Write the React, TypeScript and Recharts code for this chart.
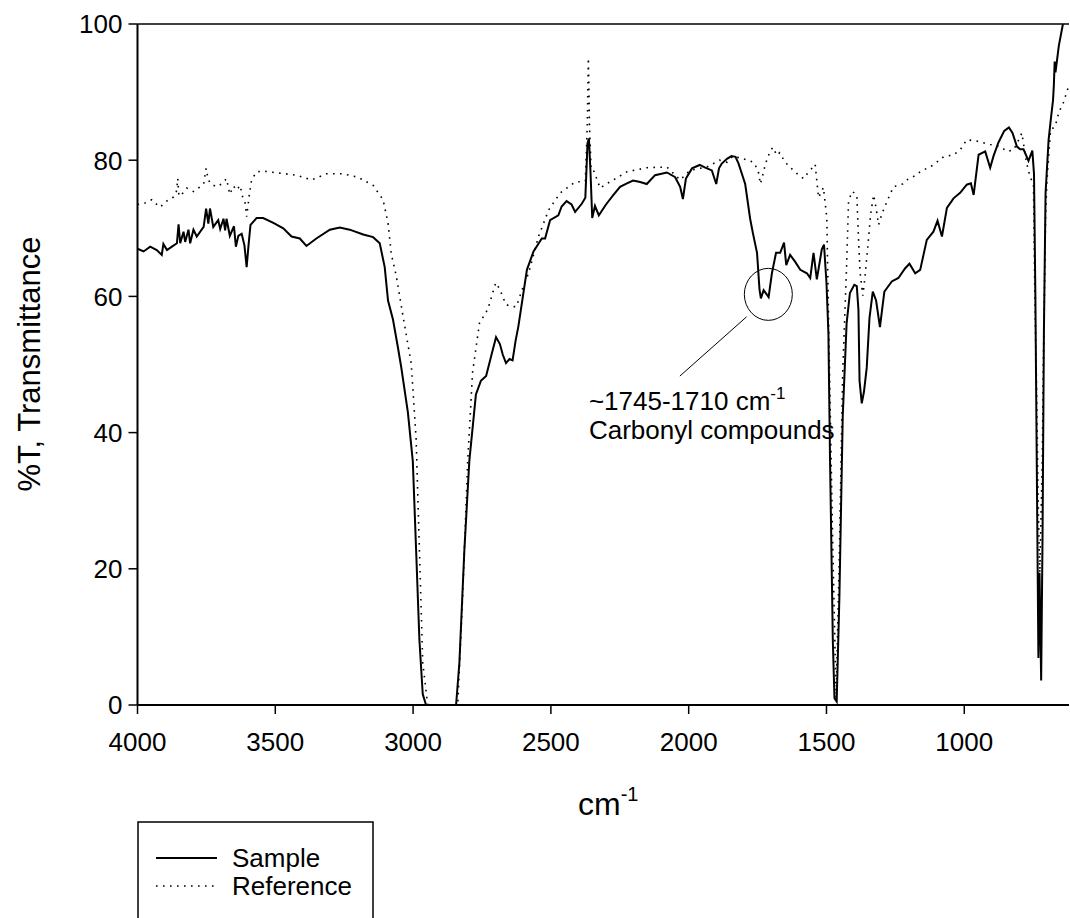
import React from "react";
import {
  Line,
  LineChart,
  ReferenceDot,
  ReferenceLine,
  XAxis,
  YAxis,
} from "recharts";

// wavenumbers (cm-1) and %T
const sampleWn = [
  4000, 3978, 3954, 3930, 3912, 3906, 3893, 3875, 3857, 3851, 3845, 3833, 3827, 3815, 3809, 3797,
  3785, 3760, 3751, 3743, 3737, 3725, 3707, 3700, 3688, 3682, 3677, 3665, 3650, 3643, 3634, 3622,
  3612, 3604, 3596, 3590, 3568, 3544, 3507, 3471, 3441, 3411, 3387, 3351, 3302, 3266, 3230, 3181,
  3145, 3121, 3103, 3091, 3073, 3055, 3043, 3019, 3001, 2989, 2977, 2965, 2953, 2844, 2832, 2814,
  2796, 2772, 2754, 2735, 2715, 2699, 2685, 2675, 2663, 2650, 2639, 2628, 2618, 2587, 2563, 2533,
  2521, 2503, 2473, 2461, 2443, 2425, 2412, 2388, 2375, 2367, 2362, 2356, 2350, 2340, 2326, 2300,
  2273, 2249, 2224, 2202, 2176, 2152, 2122, 2079, 2049, 2031, 2021, 2010, 1988, 1960, 1940, 1916,
  1900, 1890, 1880, 1861, 1845, 1830, 1819, 1795, 1777, 1767, 1752, 1743, 1738, 1728, 1719, 1710,
  1698, 1683, 1668, 1654, 1646, 1632, 1614, 1595, 1571, 1559, 1547, 1535, 1517, 1509, 1500, 1493,
  1487, 1477, 1471, 1463, 1453, 1441, 1427, 1415, 1399, 1390, 1384, 1380, 1372, 1364, 1354, 1344,
  1332, 1320, 1306, 1290, 1281, 1263, 1239, 1215, 1199, 1178, 1160, 1136, 1112, 1097, 1081, 1063,
  1039, 1015, 991, 976, 966, 948, 924, 906, 894, 876, 855, 838, 825, 809, 797, 785,
  767, 753, 747, 742, 737, 731, 727, 721, 716, 711, 705, 694, 686, 678, 675, 672,
  669, 657, 642,
];
const sampleT = [
  67.0, 66.6, 67.3, 66.8, 66.1, 67.7, 66.8, 67.3, 67.8, 70.6, 67.8, 69.5, 68.0, 69.8, 67.8, 69.8,
  68.8, 70.2, 72.9, 70.7, 72.9, 70.2, 71.2, 69.9, 71.4, 69.7, 71.4, 68.9, 70.3, 67.3, 68.9, 69.2,
  67.5, 64.3, 68.0, 70.5, 71.5, 71.5, 70.8, 70.0, 68.8, 68.5, 67.4, 68.5, 69.8, 70.1, 69.8, 69.1,
  68.7, 67.8, 64.3, 59.4, 56.6, 52.5, 49.6, 43.0, 35.8, 22.7, 9.5, 1.6, 0, 0, 6.2, 22.7,
  35.8, 45.6, 47.6, 48.3, 51.5, 54.0, 53.0, 51.5, 50.2, 50.8, 50.6, 53.5, 55.6, 63.9, 66.6, 68.5,
  68.5, 71.2, 71.9, 73.2, 74.0, 73.5, 72.4, 73.6, 74.5, 82.5, 83.2, 78.0, 71.5, 73.3, 71.9, 73.5,
  74.9, 76.1, 76.6, 77.0, 76.8, 76.5, 77.8, 78.2, 77.5, 76.1, 74.3, 77.3, 78.8, 79.3, 78.9, 78.5,
  76.5, 78.8, 79.5, 80.2, 80.6, 80.5, 79.5, 76.5, 71.4, 69.3, 66.4, 61.0, 59.7, 60.9, 60.4, 59.9,
  63.4, 66.4, 66.4, 67.9, 64.6, 66.1, 65.1, 63.9, 63.4, 62.7, 66.4, 62.5, 66.9, 67.6, 62.0, 54.6,
  35.8, 9.5, 1.0, 0.5, 16.1, 42.4, 56.0, 60.5, 61.7, 61.5, 58.0, 47.6, 44.3, 46.0, 49.5, 56.8,
  60.7, 59.4, 55.5, 60.7, 61.2, 62.2, 62.7, 64.1, 64.8, 63.4, 63.9, 68.3, 69.5, 71.1, 68.8, 73.0,
  74.4, 75.2, 76.4, 76.6, 74.9, 80.8, 81.3, 78.9, 80.6, 82.6, 84.3, 84.8, 84.0, 82.0, 81.6, 81.6,
  79.9, 81.4, 78.0, 60.0, 35.8, 6.9, 19.4, 3.6, 25.0, 55.0, 75.2, 83.0, 86.0, 88.8, 91.0, 94.5,
  92.9, 96.8, 100,
];

const refWn = [
  4000, 3978, 3960, 3948, 3930, 3918, 3894, 3869, 3858, 3854, 3850, 3845, 3821, 3797, 3773, 3760,
  3751, 3745, 3737, 3713, 3695, 3677, 3665, 3652, 3640, 3628, 3618, 3610, 3604, 3594, 3586, 3568,
  3544, 3484, 3423, 3369, 3314, 3254, 3200, 3145, 3109, 3091, 3079, 3061, 3037, 3007, 2989, 2977,
  2965, 2947, 2838, 2820, 2802, 2784, 2759, 2729, 2700, 2685, 2663, 2641, 2625, 2617, 2600, 2581,
  2545, 2508, 2466, 2412, 2375, 2368, 2364, 2360, 2354, 2347, 2321, 2300, 2273, 2224, 2152, 2079,
  2031, 1995, 1934, 1888, 1861, 1839, 1801, 1765, 1748, 1740, 1730, 1722, 1704, 1694, 1680, 1670,
  1650, 1620, 1600, 1583, 1570, 1559, 1541, 1529, 1511, 1499, 1489, 1477, 1465, 1453, 1441, 1427,
  1420, 1408, 1399, 1390, 1384, 1378, 1368, 1360, 1350, 1340, 1329, 1320, 1311, 1300, 1281, 1257,
  1224, 1209, 1175, 1160, 1112, 1075, 1039, 1015, 991, 954, 906, 870, 845, 821, 801, 791,
  775, 763, 749, 744, 737, 731, 726, 717, 713, 705, 700, 687, 670, 657, 640, 621,
];
const refT = [
  73.5, 73.6, 74.0, 74.2, 73.5, 73.1, 74.0, 74.6, 75.5, 77.3, 74.9, 74.7, 75.9, 75.4, 76.1, 76.5,
  78.8, 77.5, 76.6, 76.1, 76.5, 77.3, 75.0, 76.2, 75.6, 76.3, 74.5, 73.8, 71.7, 75.0, 77.1, 78.3,
  78.4, 78.1, 77.8, 77.1, 78.0, 78.0, 77.5, 76.3, 74.2, 70.8, 66.2, 63.0, 57.2, 50.2, 39.1, 22.7,
  6.2, 0, 0, 16.1, 35.8, 48.9, 56.1, 58.1, 62.0, 61.0, 58.8, 58.5, 58.5, 59.5, 61.5, 63.4,
  68.8, 72.7, 75.2, 76.8, 76.9, 85.0, 95.0, 85.0, 78.7, 78.7, 75.9, 76.5, 77.1, 78.3, 78.9, 79.0,
  77.1, 78.5, 79.0, 80.0, 79.7, 80.6, 80.2, 79.7, 78.5, 76.5, 78.0, 79.4, 81.4, 81.9, 80.7, 81.1,
  79.7, 78.5, 77.8, 77.3, 78.0, 78.5, 79.4, 74.5, 76.0, 71.6, 48.9, 22.7, 1.0, 22.7, 48.9, 64.4,
  73.9, 75.4, 75.2, 74.9, 68.6, 63.5, 60.1, 63.0, 67.3, 72.0, 74.9, 73.0, 70.5, 72.0, 73.9, 76.1,
  76.5, 77.1, 77.8, 78.3, 79.3, 80.5, 80.8, 81.5, 83.0, 82.8, 82.3, 82.0, 81.3, 81.5, 83.1, 84.0,
  79.8, 77.8, 76.4, 60.0, 45.0, 28.0, 19.4, 35.8, 50.0, 71.9, 76.9, 84.4, 85.0, 87.0, 88.5, 90.9,
];

const xTicks = [4000, 3500, 3000, 2500, 2000, 1500, 1000];
const yTicks = [0, 20, 40, 60, 80, 100];
const seriesNames = ["Sample", "Reference"];

const sampleData = sampleWn.map((wn, i) => ({ wn, t: sampleT[i] }));
const refData = refWn.map((wn, i) => ({ wn, t: refT[i] }));

const FONT = "Arial, 'Liberation Sans', sans-serif";

function XTick({ x, y, payload }: any) {
  return (
    <text x={x} y={y + 35} textAnchor="middle" fontSize={26} fontFamily={FONT} fill="#000">
      {payload.value}
    </text>
  );
}

function YTick({ x, y, payload }: any) {
  return (
    <text x={x - 4} y={y} dy="0.36em" textAnchor="end" fontSize={26} fontFamily={FONT} fill="#000">
      {payload.value}
    </text>
  );
}

function Legend() {
  return (
    <svg
      width={240}
      height={100}
      style={{ position: "absolute", left: 137, top: 821, overflow: "visible" }}
    >
      <rect x={1} y={1} width={235} height={120} fill="none" stroke="#000" strokeWidth={1.5} />
      <line x1={19} x2={80} y1={37} y2={37} stroke="#000" strokeWidth={2} />
      <text x={95} y={37} dy="0.36em" fontSize={26} fontFamily={FONT}>
        {seriesNames[0]}
      </text>
      <line
        x1={19}
        x2={80}
        y1={65}
        y2={65}
        stroke="#000"
        strokeWidth={1.6}
        strokeDasharray="1.6 5.4"
      />
      <text x={95} y={65} dy="0.36em" fontSize={26} fontFamily={FONT}>
        {seriesNames[1]}
      </text>
    </svg>
  );
}

export default function App() {
  return (
    <div style={{ position: "absolute", left: 0, top: 0, width: 1070, height: 918, overflow: "hidden" }}>
      <LineChart width={1070} height={918} margin={{ top: 24, right: 1, bottom: 0, left: 0 }}>
        <XAxis
          type="number"
          dataKey="wn"
          domain={[620, 4000]}
          reversed
          allowDataOverflow
          ticks={xTicks}
          height={213}
          tickSize={9}
          tick={<XTick />}
          axisLine={{ stroke: "#000", strokeWidth: 2 }}
          tickLine={{ stroke: "#000", strokeWidth: 1.5 }}
          label={{
            content: () => (
              <text x={578} y={815} fontSize={32} fontFamily={FONT} fill="#000">
                cm
                <tspan fontSize={20} dy={-14}>
                  -1
                </tspan>
              </text>
            ),
          }}
        />
        <YAxis
          type="number"
          domain={[0, 100]}
          ticks={yTicks}
          width={137.5}
          tickSize={9}
          tick={<YTick />}
          axisLine={{ stroke: "#000", strokeWidth: 2 }}
          tickLine={{ stroke: "#000", strokeWidth: 1.5 }}
          label={{
            content: () => (
              <text
                x={40}
                y={364}
                transform="rotate(-90, 40, 364)"
                textAnchor="middle"
                fontSize={31}
                fontFamily={FONT}
                fill="#000"
              >
                %T, Transmittance
              </text>
            ),
          }}
        />
        <ReferenceLine y={100} stroke="#000" strokeWidth={1.5} />
        <Line
          data={refData}
          dataKey="t"
          name={seriesNames[1]}
          type="linear"
          stroke="#000"
          strokeWidth={1.6}
          strokeDasharray="1.6 5.4"
          dot={false}
          isAnimationActive={false}
        />
        <Line
          data={sampleData}
          dataKey="t"
          name={seriesNames[0]}
          type="linear"
          stroke="#000"
          strokeWidth={2}
          dot={false}
          isAnimationActive={false}
        />
        <ReferenceLine
          segment={[
            { x: 1790, y: 57 },
            { x: 2032, y: 48.3 },
          ]}
          stroke="#000"
          strokeWidth={1}
        />
        <ReferenceDot
          x={1711}
          y={60.3}
          r={25}
          shape={(p: any) => (
            <ellipse cx={p.cx} cy={p.cy} rx={24} ry={26} fill="none" stroke="#000" strokeWidth={1} />
          )}
        />
        <ReferenceDot
          x={2362}
          y={43.3}
          r={1}
          shape={(p: any) => (
            <g fontFamily={FONT} fontSize={26} fill="#000">
              <text x={p.cx} y={p.cy}>
                ~1745-1710 cm
                <tspan fontSize={17} dy={-11}>
                  -1
                </tspan>
              </text>
              <text x={p.cx} y={p.cy + 29}>
                Carbonyl compounds
              </text>
            </g>
          )}
        />
      </LineChart>
      <Legend />
    </div>
  );
}
